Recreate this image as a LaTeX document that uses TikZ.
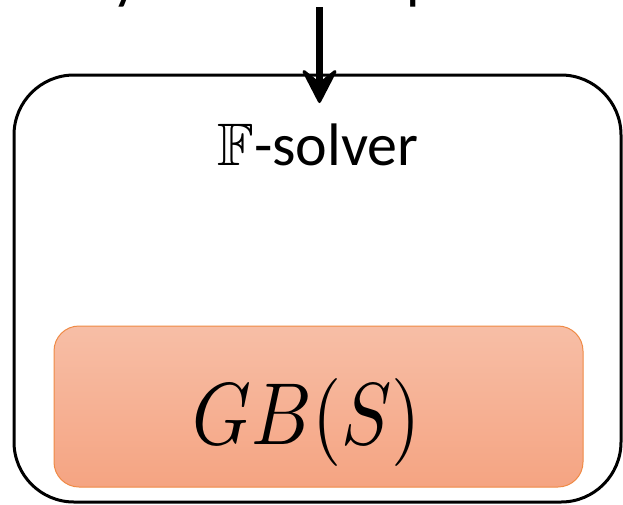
\documentclass[tikz,border=0pt]{standalone}
\usepackage{graphicx}
\usepackage{amssymb}
\usepackage{fontspec}
\setmainfont{Carlito}
\definecolor{boxorange}{HTML}{EF8A45}
\definecolor{filltop}{HTML}{F7BEA6}
\definecolor{fillbot}{HTML}{F5A482}
\tikzset{
  outerbox/.style={draw=black, line width=3pt, rounded corners=60pt, rectangle, inner sep=0pt},
  innerbox/.style={draw=boxorange, line width=1pt, rounded corners=25pt, rectangle, inner sep=0pt,
    top color=filltop, bottom color=fillbot},
  bigtext/.style={font=\fontsize{60}{72}\selectfont, inner sep=0pt},
  mathtext/.style={inner sep=0pt},
  shaft/.style={draw=black, line width=7pt},
  headshape/.style={draw=black, fill=black, line width=3pt, line join=round}
}
\begin{document}
\begin{tikzpicture}[x=1pt, y=-1pt]
  \useasboundingbox (0,0) rectangle (623,504);
  \clip (0,0) rectangle (623,504);
  % fragments of text above (cut off)
  \node[bigtext, anchor=base west] (fragy) at (112,-3) {y};
  \node[bigtext, anchor=base west] (fragp) at (406,-3) {p};
  % outer solver box
  \node[outerbox, minimum width=607pt, minimum height=427pt] (solver) at (317.5,288.5) {};
  \node[bigtext, anchor=base] (title) at (318,165) {$\mathbb{F}$-solver};
  % inner GB box
  \node[innerbox, minimum width=529pt, minimum height=161pt] (gb) at (318.5,406.5) {};
  \node[mathtext, anchor=base] (gbtext) at (307,444) {\scalebox{7.5}[8.8]{$GB(S)$}};
  % arrow
  \coordinate (arrowstart) at (319.5,7);
  \coordinate (notch) at (319.5,84);
  \coordinate (tip) at (319.5,101.5);
  \coordinate (lwing) at (304,71.5);
  \coordinate (rwing) at (335,71.5);
  \draw[shaft] (arrowstart) -- (notch);
  \filldraw[headshape] (tip) -- (lwing) -- (notch) -- (rwing) -- cycle;
\end{tikzpicture}
\end{document}
